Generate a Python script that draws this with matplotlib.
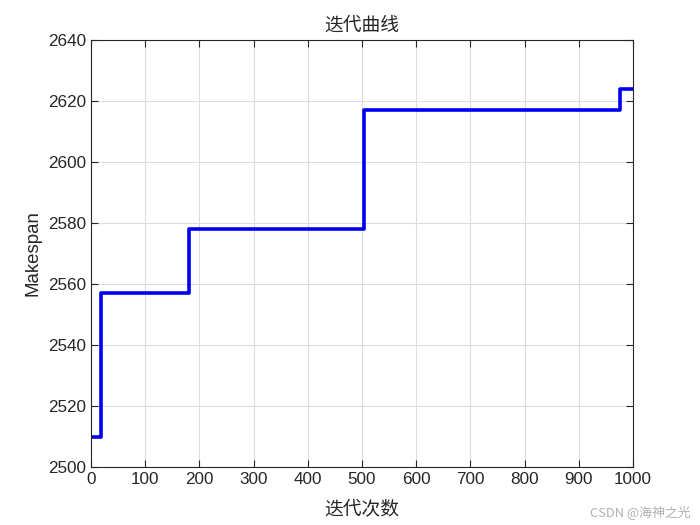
import matplotlib
matplotlib.use('Agg')
import matplotlib.pyplot as plt

plt.rcParams['font.family'] = ['Liberation Sans', 'Noto Sans CJK SC', 'DejaVu Sans']

# 迭代曲线数据（阶梯变化点）
iters = [0, 19, 181, 504, 976, 1000]
makespan = [2510, 2557, 2578, 2617, 2624, 2624]
xticks = list(range(0, 1001, 100))
yticks = list(range(2500, 2641, 20))

fig = plt.figure(figsize=(7, 5.25), dpi=100)
ax = fig.add_axes([91/700, 1 - 467/525, 542/700, 427/525])

ax.step(iters, makespan, where='post', color='#0000ee', linewidth=2.6)

ax.set_xlim(0, 1000)
ax.set_ylim(2500, 2640)
ax.set_xticks(xticks)
ax.set_yticks(yticks)
ax.grid(True, color='#dcdcdc', linewidth=0.8)
ax.tick_params(direction='in', top=True, right=True, labelsize=12.3, length=5,
               color='#262626', labelcolor='#262626')
for s in ax.spines.values():
    s.set_color('#262626')
    s.set_linewidth(0.8)

ax.set_title('迭代曲线', fontsize=13.5, family=['Noto Sans CJK SC'], color='#262626', pad=7)
ax.set_xlabel('迭代次数', fontsize=13.5, family=['Noto Sans CJK SC'], color='#262626', labelpad=9)
ax.set_ylabel('Makespan', fontsize=13.4, color='#262626', labelpad=5)

fig.text(0.986, 0.012, 'CSDN @海神之光', ha='right', va='bottom', fontsize=9.3,
         color='#b0b0b0', family=['Noto Sans CJK SC'])

fig.savefig('out.png', dpi=100)
